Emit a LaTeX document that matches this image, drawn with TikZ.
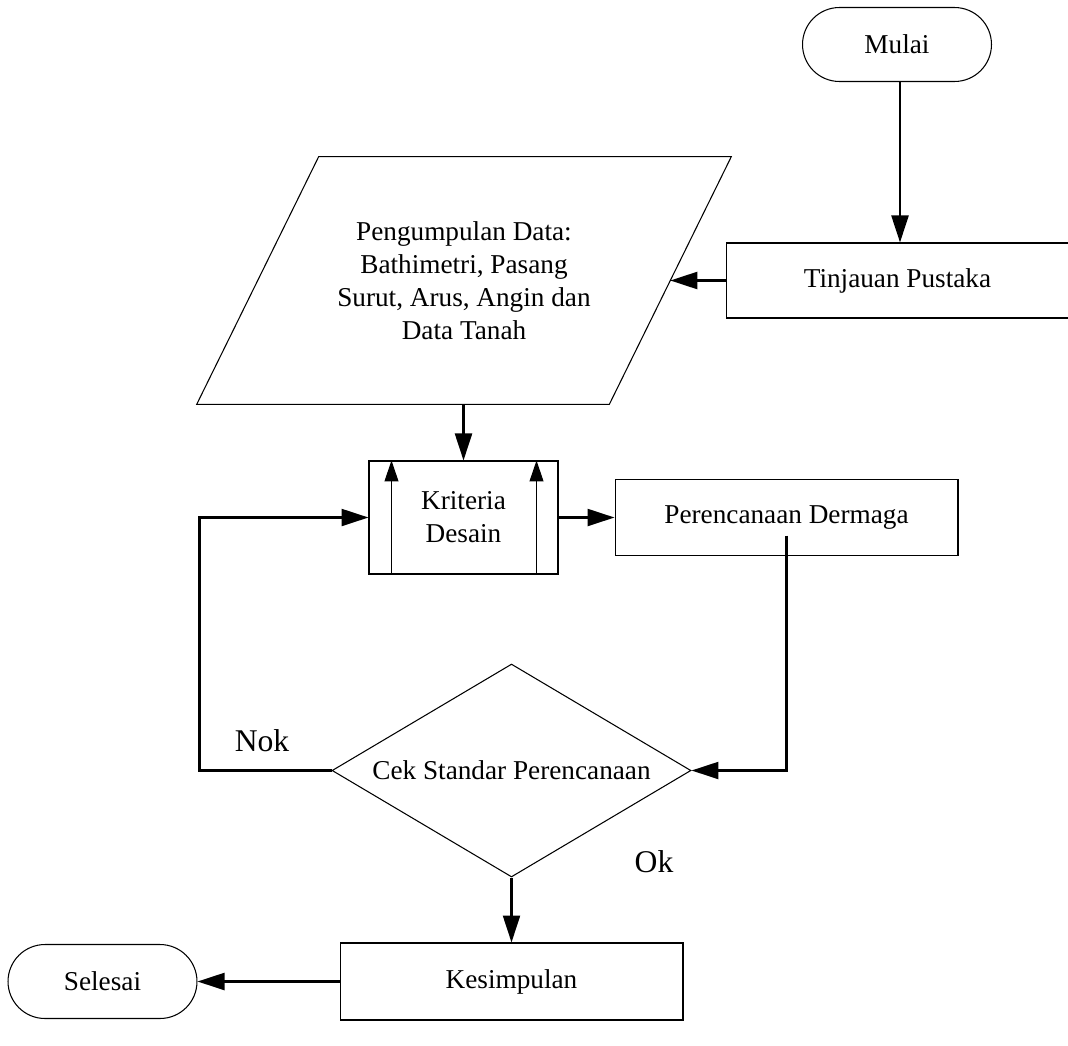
\documentclass[tikz,border=0pt]{standalone}
\usepackage{fontspec}
\setmainfont{Liberation Serif}
\usetikzlibrary{arrows.meta,shapes.geometric,calc}

\begin{document}
\begin{tikzpicture}[x=0.02cm, y=-0.02cm,
	every node/.style = {font=\fontsize{15.5}{18.8}\selectfont},
	term/.style = {draw, rectangle, rounded corners=0.74cm, minimum width=3.78cm, minimum height=1.48cm, line width=0.6pt},
	proc/.style = {draw, rectangle, minimum width=6.86cm, minimum height=1.52cm, line width=0.6pt},
	io/.style = {rectangle, minimum width=8.24cm, minimum height=4.94cm, inner sep=0pt, align=center},
	dec/.style = {draw, diamond, aspect=1.686, minimum width=7.18cm, minimum height=4.26cm,
		inner sep=0pt, line width=0.6pt},
	conn/.style = {line width=1.3pt, -{Triangle[length=0.54cm,width=0.34cm]}},
	lbl/.style = {font=\fontsize{18}{21}\selectfont}]
	
	\useasboundingbox (0,0) rectangle (1068,1045);
	
	\def \slant {1.22cm} % geser sisi atas/bawah jajaran genjang
	
	\node[term] (mulai) at (897,44.5) {Mulai};
	\node[proc, minimum width=6.84cm, minimum height=1.5cm] (tinjauan) at (897.5,280.5) {Tinjauan Pustaka};
	\node[io] (data) at (464,280.5) {Pengumpulan Data:\\ Bathimetri, Pasang\\ Surut, Arus, Angin dan\\ Data Tanah};
	\draw[line width=0.6pt] ([xshift=\slant]data.north west) -- ([xshift=\slant]data.north east)
		-- ([xshift=-\slant]data.south east) -- ([xshift=-\slant]data.south west) -- cycle;
	\node[proc, minimum width=3.78cm, minimum height=2.26cm, align=center] (kriteria) at (463.5,517.5) {Kriteria\\ Desain};
	\node[proc] (rencana) at (786.5,517.5) {Perencanaan Dermaga};
	\node[dec] (cek) at (511.5,770.5) {Cek Standar Perencanaan};
	\node[proc, minimum height=1.54cm] (simpul) at (511.5,981.5) {Kesimpulan};
	\node[term] (selesai) at (102.5,981.5) {Selesai};
	
	% garis panah di dalam kotak kriteria
	\draw[line width=0.6pt, -{Triangle[length=0.42cm,width=0.28cm]}] ([xshift=0.46cm]kriteria.south west) -- ([xshift=0.46cm]kriteria.north west);
	\draw[line width=0.6pt, -{Triangle[length=0.42cm,width=0.28cm]}] ([xshift=-0.44cm]kriteria.south east) -- ([xshift=-0.44cm]kriteria.north east);
	
	\draw[conn] (mulai.south -| 900,0) -- (tinjauan.north -| 900,0);
	\draw[conn] (tinjauan.west) -- (data.east);
	\draw[conn] (data.south -| kriteria.north) -- (kriteria.north);
	\draw[conn] (kriteria.east) -- (kriteria.east -| rencana.west);
	\draw[conn] ([yshift=-0.36cm]rencana.center) |- (cek.east);
	\draw[conn] (cek.west) -- ++(-2.64cm,0) |- (kriteria.west);
	\draw[conn] (cek.south) -- (simpul.north);
	\draw[conn] (simpul.west) -- (selesai.east);
	
	\node[lbl] (nok) at (262,741) {Nok};
	\node[lbl] (ok) at (654,862) {Ok};
\end{tikzpicture}
\end{document}
